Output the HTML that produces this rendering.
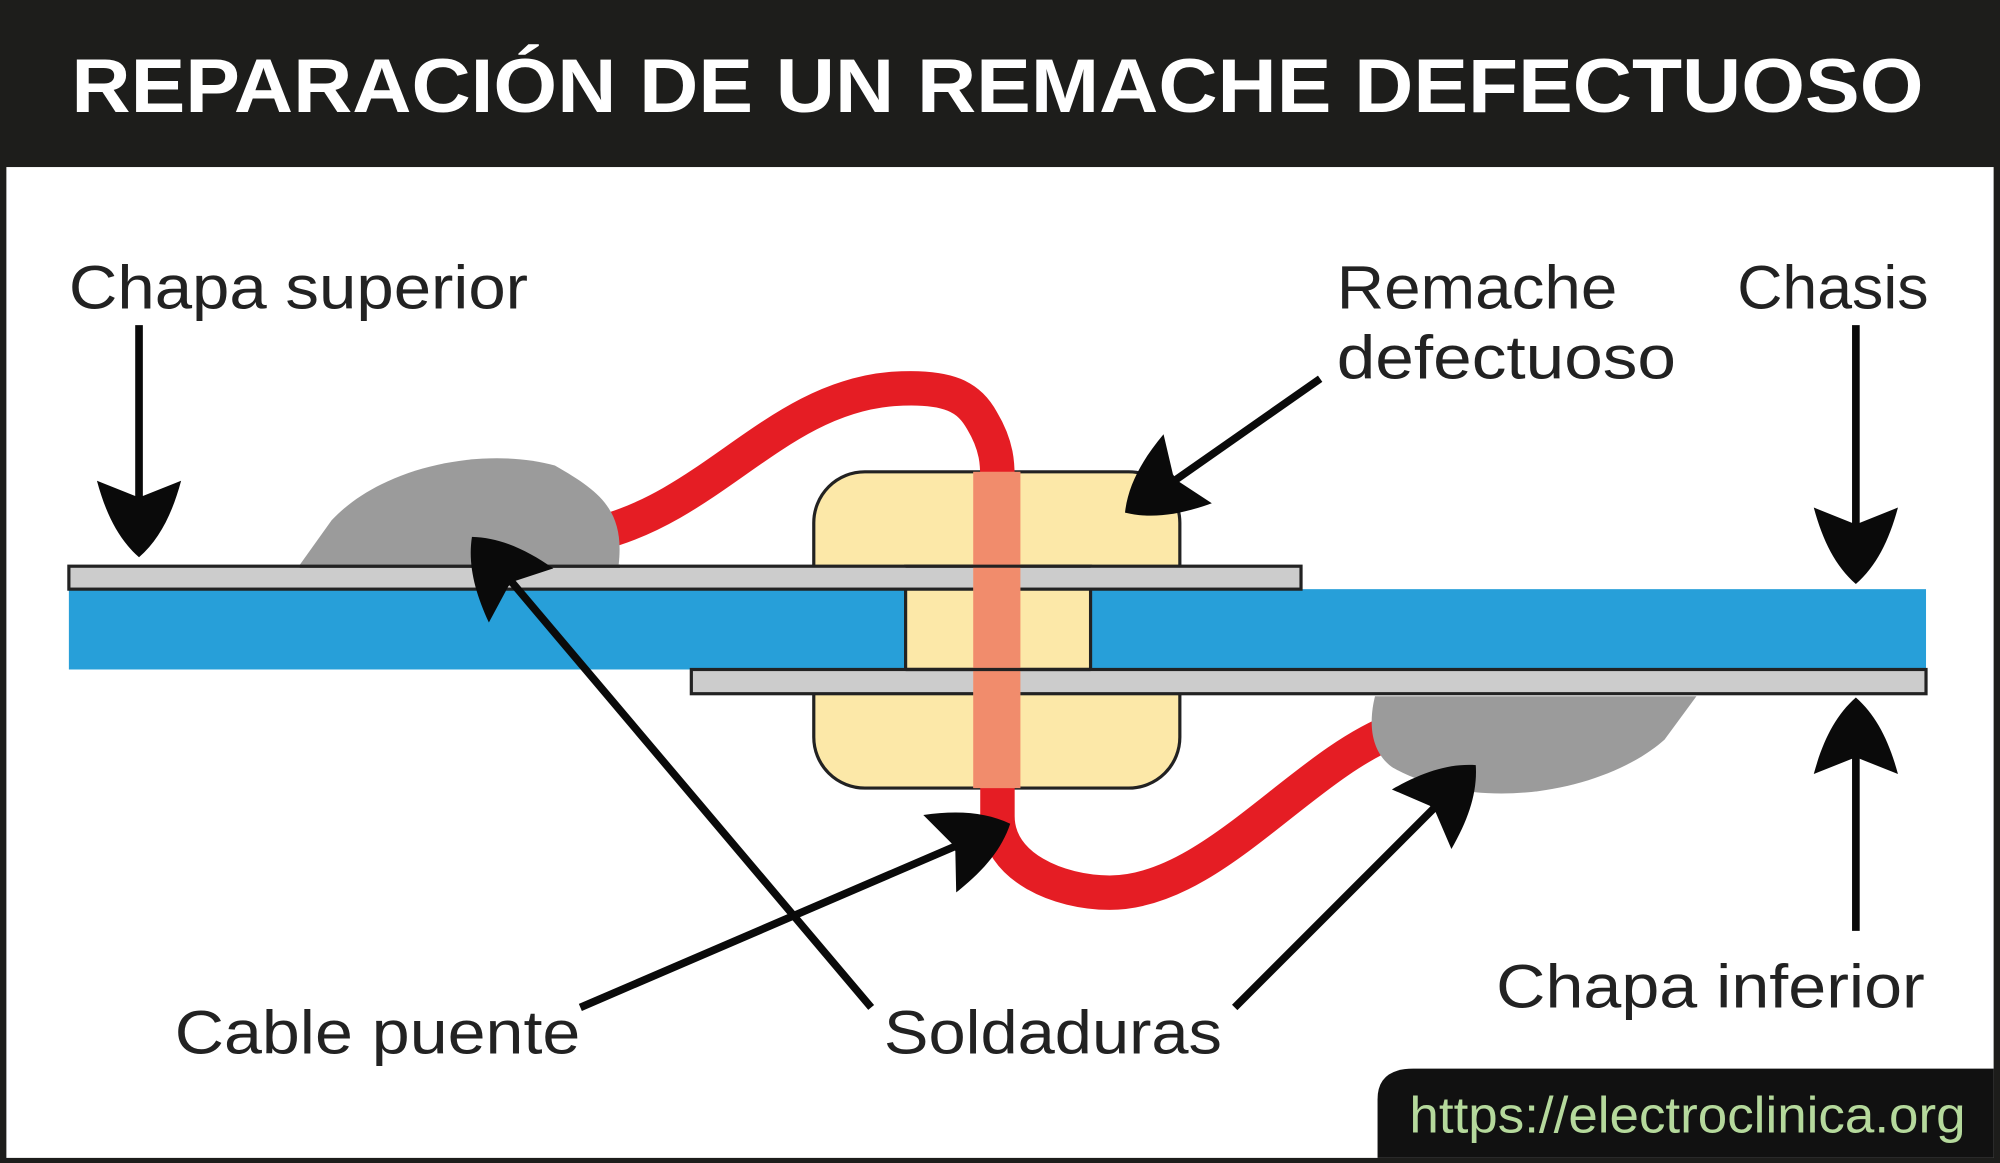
<!DOCTYPE html>
<html><head><meta charset="utf-8"><style>
html,body{margin:0;padding:0;background:#fff}
svg{display:block}
text{font-family:"Liberation Sans",sans-serif}
</style></head><body>
<svg width="2000" height="1163" viewBox="0 0 1568 912" preserveAspectRatio="none" xmlns="http://www.w3.org/2000/svg">
<defs>
<path id="ah" d="M0,0 C-14,-16 -34,-26 -60,-33 L-48,-3 L-48,3 L-60,33 C-34,26 -14,16 0,0 Z" fill="#0a0a0a"/>
</defs>
<rect x="0" y="0" width="1568" height="912" fill="#1d1d1b"/>
<rect x="5" y="131" width="1558" height="777" fill="#fff"/>
<text x="782" y="88" text-anchor="middle" font-size="60" font-weight="bold" fill="#fff" textLength="1452" lengthAdjust="spacingAndGlyphs">REPARACIÓN DE UN REMACHE DEFECTUOSO</text>

<!-- rivet heads -->
<rect x="638" y="370" width="287" height="150" rx="40" fill="#fce8a8" stroke="#222" stroke-width="2.5"/>
<rect x="638" y="468" width="287" height="150" rx="40" fill="#fce8a8" stroke="#222" stroke-width="2.5"/>
<!-- blue chassis -->
<rect x="54" y="462" width="1456" height="63" fill="#279fd9"/>
<rect x="710" y="444" width="145" height="81" fill="#fce8a8" stroke="#222" stroke-width="2.5"/>
<!-- plates -->
<rect x="54" y="444" width="966" height="18" fill="#cccccc" stroke="#222" stroke-width="2.5"/>
<rect x="542" y="525" width="968" height="19" fill="#cccccc" stroke="#222" stroke-width="2.5"/>
<!-- cable -->
<path d="M470,418 C560,395 610,312 700,305 C745,302 760,312 770,330 C782,350 782,365 782,375 L782,640 C782,680 830,700 870,700 C950,700 1020,600 1095,572" fill="none" stroke="#e51d24" stroke-width="27" stroke-linejoin="round"/>
<!-- solder blobs -->
<path d="M235,443 L260,408 C300,365 380,350 435,365 C470,385 490,400 485,443 Z" fill="#9b9b9b"/>
<path d="M1078,546 L1330,546 L1305,580 C1260,620 1160,640 1092,602 C1072,588 1074,562 1078,546 Z" fill="#9b9b9b"/>
<line x1="235" y1="444" x2="486" y2="444" stroke="#222" stroke-width="2.5"/>
<rect x="763" y="370" width="37" height="248" fill="#fce8a8"/>
<rect x="763" y="370" width="37" height="248" fill="#e51d24" opacity="0.45"/>
<line x1="710" y1="444" x2="855" y2="444" stroke="#222" stroke-width="2.5"/>
<line x1="710" y1="525" x2="855" y2="525" stroke="#222" stroke-width="2.5"/>

<!-- arrows -->
<g stroke="#0a0a0a" stroke-width="6">
<line x1="109" y1="255" x2="109" y2="395"/>
<line x1="1455" y1="255" x2="1455" y2="415"/>
<line x1="1455" y1="730" x2="1455" y2="590"/>
<line x1="1035" y1="297" x2="915" y2="381"/>
<line x1="683" y1="790" x2="400" y2="455"/>
<line x1="968" y1="790" x2="1130" y2="628"/>
<line x1="455" y1="790" x2="762" y2="658"/>
</g>
<use href="#ah" transform="translate(109,437) rotate(90)"/>
<use href="#ah" transform="translate(1455,458) rotate(90)"/>
<use href="#ah" transform="translate(1455,547) rotate(-90)"/>
<use href="#ah" transform="translate(882,402) rotate(145)"/>
<use href="#ah" transform="translate(370,421) rotate(-130)"/>
<use href="#ah" transform="translate(1157,600) rotate(-45)"/>
<use href="#ah" transform="translate(792,646) rotate(-23)"/>

<!-- labels -->
<g font-size="48" fill="#222">
<text x="54" y="242" textLength="360" lengthAdjust="spacingAndGlyphs">Chapa superior</text>
<text x="1048" y="242" textLength="220" lengthAdjust="spacingAndGlyphs">Remache</text>
<text x="1048" y="297" textLength="266" lengthAdjust="spacingAndGlyphs">defectuoso</text>
<text x="1362" y="242" textLength="150" lengthAdjust="spacingAndGlyphs">Chasis</text>
<text x="1173" y="790" textLength="336" lengthAdjust="spacingAndGlyphs">Chapa inferior</text>
<text x="137" y="826" textLength="318" lengthAdjust="spacingAndGlyphs">Cable puente</text>
<text x="693" y="826" textLength="265" lengthAdjust="spacingAndGlyphs">Soldaduras</text>
</g>
<path d="M1080,908 L1080,862 Q1080,838 1108,838 L1563,838 L1563,908 Z" fill="#111"/>
<text x="1105" y="888" font-size="40" fill="#b5d99c" textLength="436" lengthAdjust="spacingAndGlyphs">https://electroclinica.org</text>
</svg>
</body></html>
